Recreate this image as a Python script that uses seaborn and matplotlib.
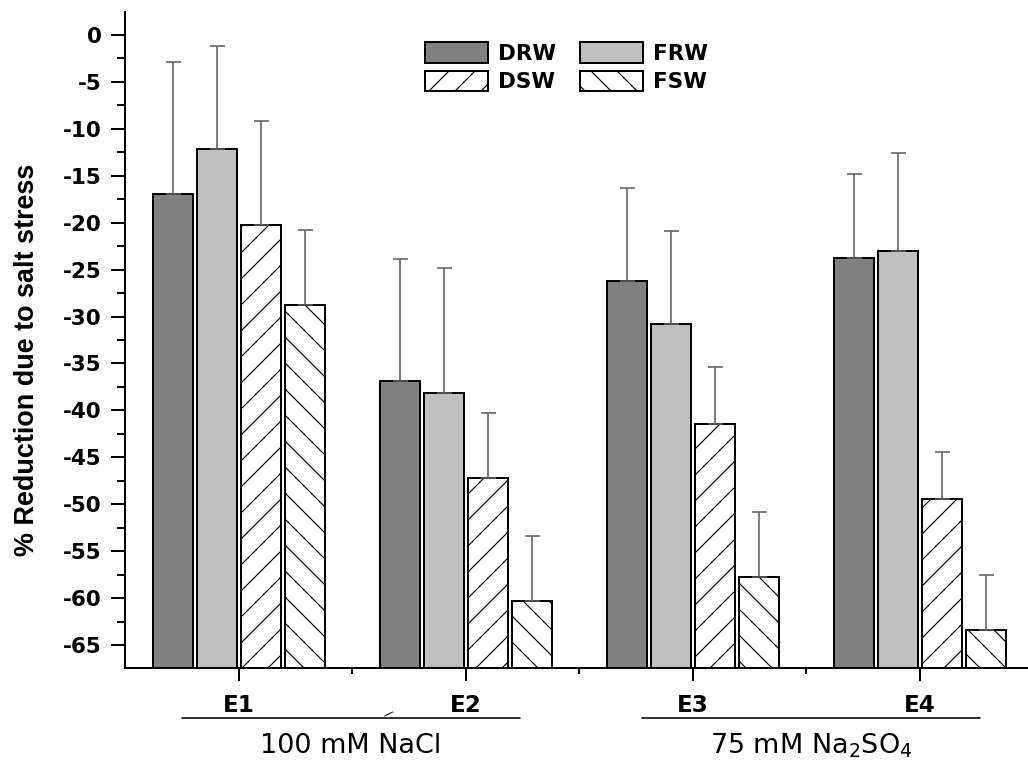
import numpy as np
import pandas as pd
import matplotlib
matplotlib.use("Agg")
import matplotlib.pyplot as plt
import seaborn as sns
from matplotlib.patches import Patch
from matplotlib.ticker import MultipleLocator, FixedLocator

# ---------------- data ----------------
categories = ["E1", "E2", "E3", "E4"]
series = ["DRW", "FRW", "DSW", "FSW"]
drw = [-16.9, -36.9, -26.2, -23.8]
frw = [-12.2, -38.2, -30.8, -23.0]
dsw = [-20.2, -47.2, -41.4, -49.4]
fsw = [-28.8, -60.3, -57.8, -63.4]
drw_err = [14.0, 13.0, 9.9, 9.0]
frw_err = [11.0, 13.4, 9.9, 10.4]
dsw_err = [11.0, 6.9, 6.0, 5.0]
fsw_err = [8.0, 6.9, 7.0, 5.9]
group_labels = ["100 mM NaCl", "75 mM Na$\\mathregular{_2}$SO$\\mathregular{_4}$"]
yticks = [0, -5, -10, -15, -20, -25, -30, -35, -40, -45, -50, -55, -60, -65]

values = {"DRW": drw, "FRW": frw, "DSW": dsw, "FSW": fsw}
errors = {"DRW": drw_err, "FRW": frw_err, "DSW": dsw_err, "FSW": fsw_err}
colors = {"DRW": "#808080", "FRW": "#c0c0c0", "DSW": "white", "FSW": "white"}
hatches = {"DRW": None, "FRW": None, "DSW": "/", "FSW": "\\"}

rows = []
for s in series:
    for c, v in zip(categories, values[s]):
        rows.append({"cat": c, "series": s, "value": v})
df = pd.DataFrame(rows)

# ---------------- style ----------------
DPI = 78
def pt(px):
    return px * 72.0 / DPI

sns.set_style("ticks")
plt.rcParams["font.family"] = ["DejaVu Sans"]
plt.rcParams["mathtext.fontset"] = "custom"
plt.rcParams["mathtext.rm"] = "DejaVu Sans"
plt.rcParams["hatch.linewidth"] = pt(1.2)
for k in ["text.color", "axes.labelcolor", "xtick.color", "ytick.color",
          "axes.edgecolor"]:
    plt.rcParams[k] = "black"

W, H = 1028, 761
fig = plt.figure(figsize=(W / DPI, H / DPI), dpi=DPI)
ax = fig.add_axes([125 / W, 1 - 668 / H, (W - 125) / W, (668 - 12) / H])

YMIN, YMAX = -67.45, 2.45

sns.barplot(data=df, x="cat", y="value", hue="series", hue_order=series,
            order=categories, palette=colors, saturation=1, width=0.775,
            gap=0.09, edgecolor="black", linewidth=pt(2.0), errorbar=None,
            legend=False, ax=ax)

for cont, s in zip(ax.containers, series):
    for bar, err in zip(cont, errors[s]):
        val = bar.get_y() + bar.get_height()
        bar.set_y(YMIN)
        bar.set_height(val - YMIN)
        if hatches[s]:
            bar.set_hatch(hatches[s])
        xc = bar.get_x() + bar.get_width() / 2
        ax.errorbar([xc], [val], yerr=[[0], [err]], fmt="none",
                    ecolor="#606060", elinewidth=pt(1.6), capsize=pt(7.5),
                    capthick=pt(1.6), zorder=1)

ax.set_ylim(YMIN, YMAX)
ax.set_xlim(-0.5, 3.476)
ax.yaxis.set_major_locator(FixedLocator(yticks))
ax.yaxis.set_minor_locator(MultipleLocator(2.5))
ax.xaxis.set_minor_locator(FixedLocator([0.5, 1.5, 2.5]))
ax.set_yticklabels([str(t) for t in yticks])

for sp in ["top", "right"]:
    ax.spines[sp].set_visible(False)
for sp in ["left", "bottom"]:
    ax.spines[sp].set_linewidth(pt(2.0))
    ax.spines[sp].set_color("black")

ax.tick_params(axis="y", which="major", direction="out", length=pt(14),
               width=pt(2), pad=pt(9), labelsize=pt(21.5), colors="black")
ax.tick_params(axis="y", which="minor", direction="out", length=pt(8),
               width=pt(2), colors="black")
ax.tick_params(axis="x", which="major", direction="out", length=pt(13),
               width=pt(2), pad=pt(13), labelsize=pt(23), colors="black")
ax.tick_params(axis="x", which="minor", direction="out", length=pt(6),
               width=pt(2), colors="black")
for lab in ax.get_yticklabels() + ax.get_xticklabels():
    lab.set_fontweight("bold")

ax.set_xlabel("")
ax.set_ylabel("% Reduction due to salt stress", fontsize=pt(27), fontweight="bold",
              family=["Liberation Sans", "DejaVu Sans"], color="black")
ax.yaxis.set_label_coords((40 - 125) / 903, (668 - 360) / 656)

# group brackets
tr = ax.get_xaxis_transform()
line_y = (668 - 718) / 656
text_y = (668 - 746) / 656
for (x0, x1), lab in zip([(-0.251, 1.238), (1.775, 3.264)], group_labels):
    ax.plot([x0, x1], [line_y, line_y], color="black", lw=pt(1.6),
            transform=tr, clip_on=False)
    ax.text((x0 + x1) / 2, text_y, lab, transform=tr, ha="center", va="center",
            fontsize=pt(27), color="black")
# small stray stroke seen in the original
ax.plot([(385 - 239) / 227, (393 - 239) / 227],
        [(668 - 716) / 656, (668 - 712) / 656], color="black", lw=pt(1.0),
        transform=tr, clip_on=False)

# legend
handles = [Patch(facecolor=colors[s], edgecolor="black", hatch=hatches[s],
                 linewidth=pt(2.0), label=s) for s in series]
order_idx = [0, 2, 1, 3]
leg = fig.legend([handles[i] for i in order_idx], [series[i] for i in order_idx],
                 ncol=2, loc="upper left", bbox_to_anchor=(425 / W, 1 - 42 / H),
                 frameon=False, borderpad=0, borderaxespad=0,
                 prop={"size": pt(21.5), "weight": "bold"},
                 handlelength=2.95, handleheight=1.1, handletextpad=0.45,
                 columnspacing=1.1, labelspacing=0.32)
for t in leg.get_texts():
    t.set_color("black")

fig.savefig("out.png", dpi=DPI)
